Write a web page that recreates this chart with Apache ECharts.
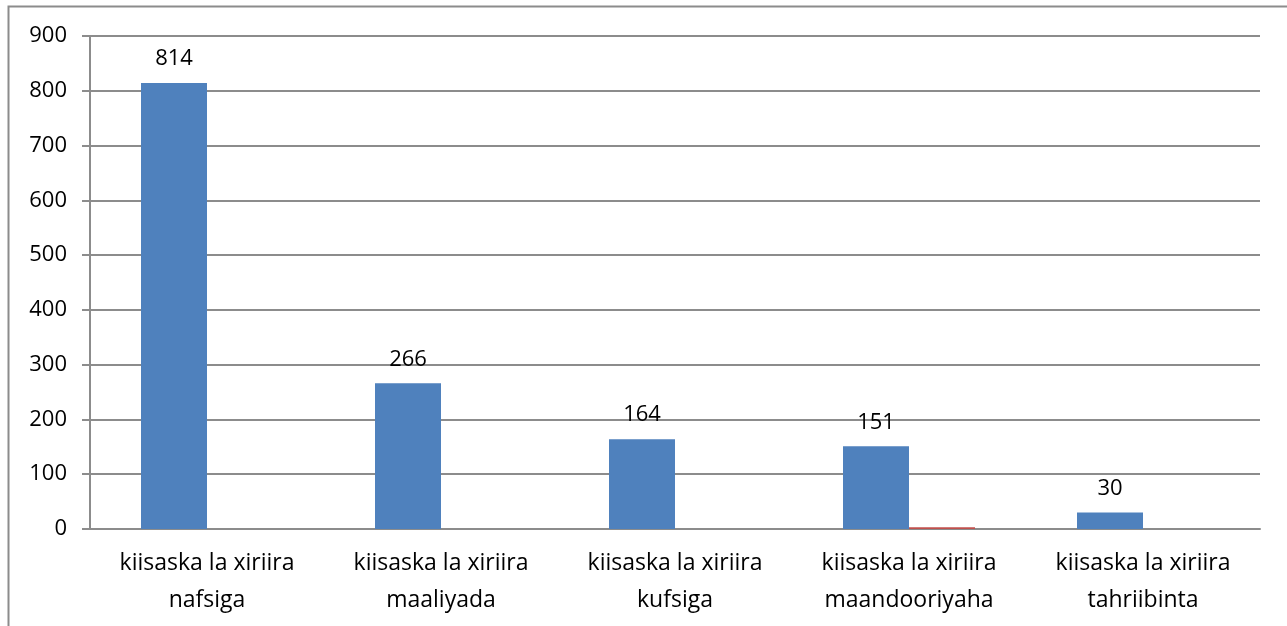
<!DOCTYPE html>
<html>
<head>
<meta charset="utf-8">
<script src="https://cdn.jsdelivr.net/npm/echarts@6/dist/echarts.min.js"></script>
<style>
  html, body { margin: 0; padding: 0; background: #fff; }
  #chart { width: 1287px; height: 626px; }
</style>
</head>
<body>
<div id="chart"></div>
<script>
const categories = [
  'kiisaska la xiriira\nnafsiga',
  'kiisaska la xiriira\nmaaliyada',
  'kiisaska la xiriira\nkufsiga',
  'kiisaska la xiriira\nmaandooriyaha',
  'kiisaska la xiriira\ntahriibinta'
];
const mainValues = [814, 266, 164, 151, 30];
const minorValues = [0, 0, 0, 3, 0];
const yTicks = { min: 0, max: 900, interval: 100 };

const chart = echarts.init(document.getElementById('chart'), null, { renderer: 'canvas' });
chart.setOption({
  animation: false,
  textStyle: { fontFamily: 'Open Sans, Noto Sans, sans-serif' },
  graphic: [{
    type: 'rect',
    shape: { x: 8.5, y: 6.5, width: 1300, height: 700 },
    style: { fill: 'none', stroke: '#8c8c8c', lineWidth: 2 },
    silent: true
  }],
  grid: { left: 90, right: 27, top: 36, bottom: 97 },
  xAxis: {
    type: 'category',
    data: categories,
    axisTick: { show: false },
    axisLine: { lineStyle: { color: '#8c8c8c', width: 2 } },
    axisLabel: { color: '#000', fontSize: 23, lineHeight: 37, margin: 16, interval: 0 }
  },
  yAxis: {
    type: 'value',
    min: yTicks.min,
    max: yTicks.max,
    interval: yTicks.interval,
    axisLine: { show: true, lineStyle: { color: '#8c8c8c', width: 2 } },
    axisTick: { show: true, inside: false, length: 8, lineStyle: { color: '#8c8c8c', width: 2 } },
    splitLine: { lineStyle: { color: '#8c8c8c', width: 2 } },
    axisLabel: { color: '#000', fontSize: 22, margin: 23 }
  },
  series: [
    {
      type: 'bar',
      data: mainValues,
      barWidth: 66,
      barGap: '0%',
      itemStyle: { color: '#4f81bd' },
      label: { show: true, position: 'top', distance: 13, color: '#000', fontSize: 22 }
    },
    {
      type: 'bar',
      data: minorValues,
      barWidth: 66,
      itemStyle: { color: '#c0504d' }
    }
  ]
});
</script>
</body>
</html>
